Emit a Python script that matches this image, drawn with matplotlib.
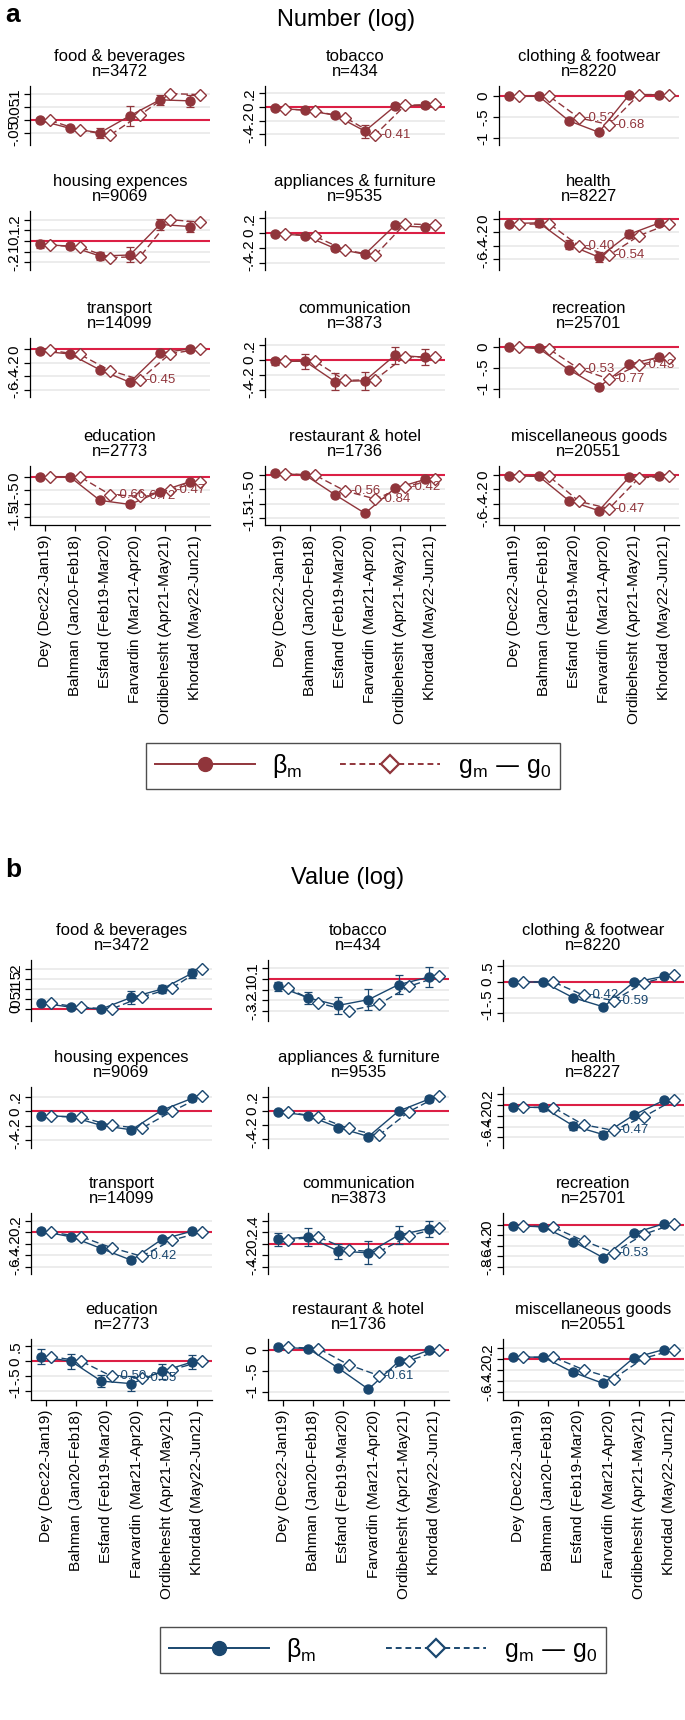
import matplotlib
matplotlib.use("Agg")
import matplotlib.pyplot as plt
from matplotlib.lines import Line2D
import numpy as np

plt.rcParams['font.family'] = ['Liberation Sans', 'DejaVu Sans']
plt.rcParams['mathtext.default'] = 'regular'

# ---------------- data ----------------
categories = ["food & beverages", "tobacco", "clothing & footwear",
              "housing expences", "appliances & furniture", "health",
              "transport", "communication", "recreation",
              "education", "restaurant & hotel", "miscellaneous goods"]
n_obs = [3472, 434, 8220, 9069, 9535, 8227, 14099, 3873, 25701, 2773, 1736, 20551]
months = ["Dey (Dec22-Jan19)", "Bahman (Jan20-Feb18)", "Esfand (Feb19-Mar20)",
          "Farvardin (Mar21-Apr20)", "Ordibehesht (Apr21-May21)", "Khordad (May22-Jun21)"]

# Panel a: Number (log)
num_beta = [
    [-0.003, -0.033, -0.050, 0.015, 0.076, 0.072],
    [-0.020, -0.045, -0.120, -0.355, 0.012, 0.028],
    [0.000, 0.000, -0.590, -0.865, 0.025, 0.040],
    [-0.032, -0.047, -0.140, -0.130, 0.155, 0.135],
    [-0.007, -0.033, -0.207, -0.287, 0.105, 0.080],
    [-0.068, -0.056, -0.384, -0.568, -0.228, -0.060],
    [-0.024, -0.068, -0.305, -0.490, -0.056, 0.008],
    [-0.018, -0.015, -0.290, -0.280, 0.066, 0.040],
    [0.000, -0.045, -0.550, -0.960, -0.420, -0.250],
    [0.000, 0.000, -0.870, -1.020, -0.545, -0.180],
    [0.050, 0.000, -0.690, -1.340, -0.470, -0.160],
    [-0.015, -0.019, -0.360, -0.500, -0.034, -0.019],
]
num_ci = [
    [0.005, 0.006, 0.020, 0.038, 0.019, 0.023],
    [0.020, 0.020, 0.025, 0.095, 0.047, 0.040],
    [0.020, 0.020, 0.030, 0.050, 0.020, 0.020],
    [0.037, 0.030, 0.040, 0.070, 0.050, 0.050],
    [0.020, 0.020, 0.030, 0.040, 0.020, 0.020],
    [0.020, 0.064, 0.070, 0.070, 0.060, 0.040],
    [0.015, 0.015, 0.020, 0.030, 0.020, 0.030],
    [0.050, 0.100, 0.110, 0.120, 0.115, 0.110],
    [0.020, 0.020, 0.020, 0.040, 0.030, 0.020],
    [0.030, 0.050, 0.080, 0.100, 0.090, 0.060],
    [0.020, 0.020, 0.020, 0.040, 0.020, 0.020],
    [0.010, 0.010, 0.015, 0.030, 0.010, 0.010],
]
num_gap = [
    [-0.003, -0.040, -0.059, 0.018, 0.100, 0.096],
    [-0.028, -0.055, -0.155, -0.410, 0.024, 0.040],
    [0.000, 0.000, -0.520, -0.680, 0.040, 0.040],
    [-0.037, -0.057, -0.155, -0.145, 0.200, 0.175],
    [-0.007, -0.044, -0.230, -0.300, 0.127, 0.110],
    [-0.080, -0.068, -0.400, -0.540, -0.248, -0.072],
    [-0.016, -0.076, -0.316, -0.450, -0.064, 0.004],
    [-0.015, -0.015, -0.275, -0.264, 0.048, 0.037],
    [0.000, -0.060, -0.530, -0.770, -0.430, -0.280],
    [0.000, 0.000, -0.660, -0.720, -0.470, -0.200],
    [0.040, -0.010, -0.560, -0.840, -0.420, -0.160],
    [-0.015, -0.020, -0.370, -0.470, -0.040, -0.020],
]
num_ticks = [
    [-0.05, 0, 0.05, 0.1], [-0.4, -0.2, 0, 0.2], [-1, -0.5, 0],
    [-0.2, -0.1, 0, 0.1, 0.2], [-0.4, -0.2, 0, 0.2], [-0.6, -0.4, -0.2, 0],
    [-0.6, -0.4, -0.2, 0], [-0.4, -0.2, 0, 0.2], [-1, -0.5, 0],
    [-1.5, -1, -0.5, 0], [-1.5, -1, -0.5, 0], [-0.6, -0.4, -0.2, 0],
]
num_ylim = [
    (-0.097, 0.129), (-0.56, 0.31), (-1.17, 0.245),
    (-0.27, 0.28), (-0.50, 0.30), (-0.76, 0.12),
    (-0.71, 0.17), (-0.50, 0.30), (-1.20, 0.205),
    (-1.78, 0.40), (-1.75, 0.31), (-0.70, 0.125),
]

# Panel b: Value (log)
val_beta = [
    [0.030, 0.009, 0.000, 0.058, 0.099, 0.178],
    [-0.071, -0.176, -0.246, -0.193, -0.054, 0.015],
    [0.000, 0.000, -0.500, -0.790, -0.010, 0.180],
    [-0.059, -0.073, -0.195, -0.257, 0.015, 0.180],
    [-0.008, -0.065, -0.236, -0.366, 0.000, 0.170],
    [-0.040, -0.040, -0.386, -0.550, -0.185, 0.090],
    [0.018, -0.080, -0.285, -0.490, -0.127, 0.018],
    [0.073, 0.118, -0.130, -0.160, 0.150, 0.264],
    [-0.015, -0.040, -0.320, -0.630, -0.160, 0.020],
    [0.160, 0.000, -0.665, -0.750, -0.340, -0.027],
    [0.070, 0.040, -0.430, -0.940, -0.270, 0.000],
    [0.038, 0.038, -0.240, -0.440, 0.024, 0.176],
]
val_ci = [
    [0.010, 0.010, 0.012, 0.034, 0.020, 0.022],
    [0.041, 0.057, 0.080, 0.097, 0.090, 0.095],
    [0.020, 0.020, 0.030, 0.050, 0.020, 0.030],
    [0.030, 0.035, 0.035, 0.040, 0.040, 0.035],
    [0.020, 0.030, 0.030, 0.030, 0.030, 0.040],
    [0.020, 0.070, 0.080, 0.070, 0.050, 0.050],
    [0.040, 0.040, 0.040, 0.050, 0.050, 0.040],
    [0.110, 0.160, 0.130, 0.200, 0.160, 0.140],
    [0.020, 0.020, 0.020, 0.030, 0.030, 0.030],
    [0.240, 0.250, 0.200, 0.260, 0.240, 0.240],
    [0.030, 0.030, 0.030, 0.050, 0.030, 0.030],
    [0.020, 0.020, 0.040, 0.040, 0.030, 0.030],
]
val_gap = [
    [0.029, 0.008, 0.000, 0.060, 0.104, 0.202],
    [-0.088, -0.224, -0.295, -0.237, -0.071, 0.022],
    [0.000, 0.000, -0.420, -0.590, -0.020, 0.210],
    [-0.066, -0.084, -0.195, -0.235, 0.000, 0.210],
    [-0.015, -0.084, -0.250, -0.350, -0.010, 0.220],
    [-0.040, -0.045, -0.365, -0.470, -0.215, 0.100],
    [0.000, -0.080, -0.270, -0.420, -0.140, 0.005],
    [0.068, 0.118, -0.110, -0.145, 0.136, 0.277],
    [-0.015, -0.050, -0.305, -0.530, -0.180, 0.015],
    [0.160, 0.000, -0.500, -0.550, -0.280, 0.000],
    [0.075, 0.040, -0.350, -0.610, -0.255, -0.005],
    [0.033, 0.038, -0.190, -0.350, 0.019, 0.167],
]
val_ticks = [
    [0, 0.05, 0.1, 0.15, 0.2], [-0.3, -0.2, -0.1, 0, 0.1], [-1, -0.5, 0, 0.5],
    [-0.4, -0.2, 0, 0.2], [-0.4, -0.2, 0, 0.2], [-0.6, -0.4, -0.2, 0, 0.2],
    [-0.6, -0.4, -0.2, 0, 0.2], [-0.4, -0.2, 0, 0.2, 0.4], [-0.8, -0.6, -0.4, -0.2, 0],
    [-1, -0.5, 0, 0.5], [-1, -0.5, 0], [-0.6, -0.4, -0.2, 0, 0.2],
]
val_ylim = [
    (-0.06, 0.245), (-0.39, 0.173), (-1.24, 0.70),
    (-0.51, 0.34), (-0.53, 0.345), (-0.80, 0.34),
    (-0.73, 0.336), (-0.53, 0.536), (-0.94, 0.225),
    (-1.30, 0.75), (-1.20, 0.27), (-0.74, 0.367),
]

# ---------------- styling ----------------
W, H = 685, 1720
RED = '#dc1f45'
GRID = '#ececec'
COL_A = '#90353b'
COL_B = '#1a476f'

fig = plt.figure(figsize=(W / 100, H / 100), dpi=100)


def stata_fmt(v):
    if v == 0:
        return "0"
    s = f"{v:g}"
    return s.replace("0.", ".", 1) if "0." in s else s


def px_axes(left, top, width, height):
    return fig.add_axes([left / W, 1 - (top + height) / H, width / W, height / H])


def draw_panel(col_left, width, row_tops, height, beta, ci, gap, ticks, ylims, color):
    x = np.arange(len(months))
    for i in range(len(categories)):
        r, c = divmod(i, 3)
        ax = px_axes(col_left[c], row_tops[r], width, height)
        ax.set_xlim(-0.5, 5.5)
        ax.set_ylim(*ylims[i])
        ax.set_axisbelow(True)
        ax.set_yticks(ticks[i])
        ax.set_yticklabels([stata_fmt(t) for t in ticks[i]], rotation=90,
                           va='center', fontsize=11)
        ax.yaxis.grid(True, color=GRID, lw=1.4)
        ax.axhline(0, color=RED, lw=1.5, zorder=1.5)
        xb = x - 0.17
        xg = x + 0.17
        ax.errorbar(xb, beta[i], yerr=ci[i], fmt='none', ecolor=color,
                    elinewidth=0.9, capsize=3, capthick=0.9, zorder=2)
        ax.plot(xb, beta[i], '-', color=color, lw=1.0, marker='o', ms=6.5,
                zorder=3)
        ax.plot(xg, gap[i], '--', color=color, lw=1.0, marker='D', ms=6.3,
                mfc='white', mec=color, mew=1.0, dashes=(5, 2.5), zorder=3)
        for xi, gi in zip(xg, gap[i]):
            if gi <= -0.395:
                ax.annotate(f"{gi:.2f}", (xi, gi), xytext=(3.5, 0),
                            textcoords='offset points', va='center', ha='left',
                            color=color, fontsize=9.5, zorder=4)
        for s in ['top', 'right']:
            ax.spines[s].set_visible(False)
        ax.spines['left'].set_linewidth(0.9)
        ax.tick_params(axis='y', length=4, width=0.9, pad=2)
        ax.set_title(f"{categories[i]}\nn={n_obs[i]}", fontsize=12, pad=7,
                     linespacing=1.05)
        if r == 3:
            ax.set_xticks(x)
            ax.set_xticklabels(months, rotation=90, fontsize=11)
            ax.spines['bottom'].set_linewidth(0.9)
            ax.tick_params(axis='x', length=4, width=0.9, pad=3)
        else:
            ax.set_xticks([])
            ax.spines['bottom'].set_visible(False)


# Panel a
draw_panel([30, 265, 499], 180, [86, 211, 338, 466], 59,
           num_beta, num_ci, num_gap, num_ticks, num_ylim, COL_A)
# Panel b
draw_panel([31, 268, 503], 181, [960, 1087, 1213, 1339], 61,
           val_beta, val_ci, val_gap, val_ticks, val_ylim, COL_B)

fig.text(5 / W, 1 - 15 / H, "a", fontsize=19, fontweight='bold', va='center', ha='left')
fig.text(346 / W, 1 - 20 / H, "Number (log)", fontsize=17, va='center', ha='center')
fig.text(5 / W, 1 - 870 / H, "b", fontsize=19, fontweight='bold', va='center', ha='left')
fig.text(348 / W, 1 - 878 / H, "Value (log)", fontsize=17, va='center', ha='center')


def add_legend(color, cx, cy, spacing):
    h1 = Line2D([], [], color=color, lw=1.4, marker='o', ms=10)
    h2 = Line2D([], [], color=color, lw=1.4, ls='--', dashes=(3, 2), marker='D',
                ms=9, mfc='white', mec=color, mew=1.6)
    leg = fig.legend([h1, h2], [r'$β_m$', r'$g_m$ — $g_0$'], loc='center',
                     bbox_to_anchor=(cx / W, 1 - cy / H), ncol=2, frameon=True,
                     fancybox=False, edgecolor='#222222', fontsize=18,
                     handlelength=4.0, columnspacing=spacing, borderpad=0.35,
                     handletextpad=0.7)
    leg.get_frame().set_linewidth(1.0)
    return leg


add_legend(COL_A, 353, 766, 1.5)
add_legend(COL_B, 383, 1650, 2.8)

fig.savefig("out.png", dpi=100, facecolor='white')
